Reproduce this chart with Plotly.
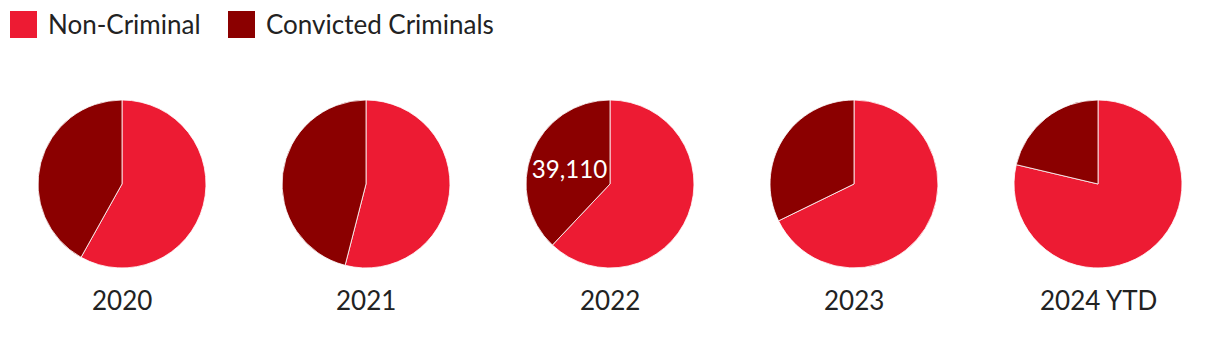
import plotly.graph_objects as go

# Annual counts by category
years = ["2020", "2021", "2022", "2023", "2024 YTD"]
categories = ["Non-Criminal", "Convicted Criminals"]
non_criminal = [60200, 40500, 63900, 78000, 89000]
convicted = [43400, 34500, 39110, 37100, 24100]
# Slice labels shown on the chart (only 2022 convicted is labelled)
shown_labels = [None, None, "Convicted Criminals", None, None]

colors = ["#ED1B33", "#8B0000"]
font_family = "Lato"
text_color = "#222222"

fig = go.Figure()
n = len(years)
for i, yr in enumerate(years):
    vals = [non_criminal[i], convicted[i]]
    txt = [f"{v:,}" if shown_labels[i] == c else "" for c, v in zip(categories, vals)]
    fig.add_trace(go.Pie(
        labels=categories,
        values=vals,
        text=txt,
        textinfo="text",
        textposition="inside",
        insidetextorientation="horizontal",
        textfont=dict(family=font_family, size=25, color="white"),
        sort=False,
        direction="clockwise",
        rotation=0,
        marker=dict(colors=colors, line=dict(color="white", width=0.8)),
        domain=dict(x=[i / n, (i + 1) / n], y=[0.23, 0.7126]),
        showlegend=False,
        hoverinfo="label+value",
        name=yr,
    ))
    fig.add_annotation(
        x=(i + 0.5) / n, y=1 - 300 / 348, xref="paper", yref="paper",
        text=yr, showarrow=False, xanchor="center", yanchor="middle",
        font=dict(family=font_family, size=26, color=text_color),
    )

# Legend drawn as swatches with text
legend_x = [10, 228]
W, H = 1220, 348
for cat, col, x0 in zip(categories, colors, legend_x):
    fig.add_shape(
        type="rect", xref="paper", yref="paper",
        x0=x0 / W, x1=(x0 + 27) / W, y0=1 - 38 / H, y1=1 - 11 / H,
        fillcolor=col, line=dict(width=0),
    )
    fig.add_annotation(
        x=(x0 + 36) / W, y=1 - 24 / H, xref="paper", yref="paper",
        text=cat, showarrow=False, xanchor="left", yanchor="middle",
        font=dict(family=font_family, size=26, color=text_color),
    )

fig.update_layout(
    width=W, height=H,
    margin=dict(l=0, r=0, t=0, b=0),
    paper_bgcolor="white", plot_bgcolor="white",
)

fig.write_html("out.html")
